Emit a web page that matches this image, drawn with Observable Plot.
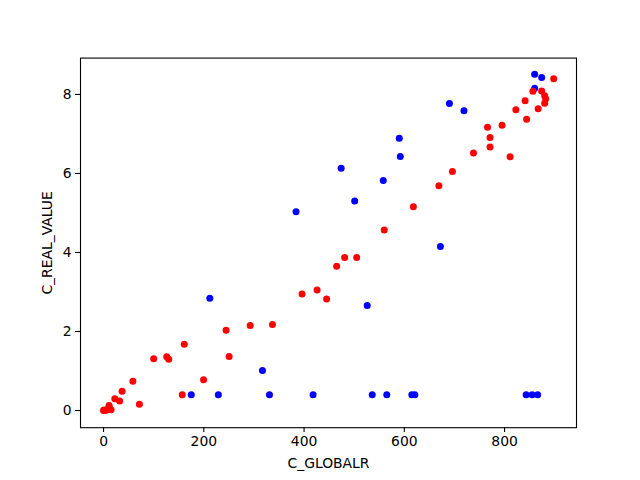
<!DOCTYPE html>
<html>
<head>
<meta charset="utf-8">
<script src="https://cdn.jsdelivr.net/npm/d3@7"></script>
<script src="https://cdn.jsdelivr.net/npm/@observablehq/plot@0.6"></script>
<style>
  html, body { margin: 0; padding: 0; background: #fff; }
  #chart svg { display: block; }
</style>
</head>
<body>
<div id="chart"></div>
<script>
const blueX = [860, 874, 860, 719, 690, 590, 592, 474, 558, 501, 384, 672, 526, 212, 317, 175, 229, 331, 418, 536, 565, 615, 621, 843, 855, 866];
const blueY = [8.51, 8.43, 8.16, 7.59, 7.77, 6.89, 6.43, 6.13, 5.82, 5.30, 5.03, 4.15, 2.66, 2.84, 1.01, 0.40, 0.40, 0.40, 0.40, 0.40, 0.40, 0.40, 0.40, 0.40, 0.40, 0.40];

const redX = [0, 1, 4, 8, 11, 12, 15, 22.5, 32, 37, 58.5, 71.5, 100, 126, 130, 161, 157, 199.5, 244.5, 250.5, 292.5, 337, 396, 426, 445, 465, 481, 505, 560, 618, 669, 696, 738, 771, 771, 766, 795, 811, 822.5, 844, 841, 856.5, 867, 874, 880, 882, 880, 898];
const redY = [0, 0.01, 0, 0.03, 0.13, 0.05, 0.02, 0.30, 0.24, 0.49, 0.74, 0.16, 1.31, 1.36, 1.30, 1.68, 0.40, 0.78, 2.03, 1.37, 2.15, 2.18, 2.95, 3.05, 2.82, 3.65, 3.87, 3.87, 4.57, 5.16, 5.69, 6.05, 6.52, 6.67, 6.91, 7.17, 7.22, 6.42, 7.61, 7.37, 7.84, 8.08, 7.64, 8.09, 7.97, 7.89, 7.78, 8.40];

const xTicks = [0, 200, 400, 600, 800];
const yTicks = [0, 2, 4, 6, 8];
const xLabel = "C_GLOBALR";
const yLabel = "C_REAL_VALUE";

const blue = blueX.map((x, i) => ({x, y: blueY[i]}));
const red = redX.map((x, i) => ({x, y: redY[i]}));

const chart = Plot.plot({
  width: 640,
  height: 480,
  marginLeft: 80,
  marginRight: 64,
  marginTop: 57.6,
  marginBottom: 52.8,
  style: {fontFamily: "DejaVu Sans", fontSize: "13.9px", color: "black", background: "white"},
  x: {domain: [-46, 943.5]},
  y: {domain: [-0.435, 8.92]},
  marks: [
    Plot.dot(blue, {x: "x", y: "y", r: 3.5, fill: "#0000ff", stroke: "none"}),
    Plot.dot(red, {x: "x", y: "y", r: 3.5, fill: "#ff0000", stroke: "none"}),
    Plot.frame({stroke: "black", strokeWidth: 1.1}),
    Plot.axisX({ticks: xTicks, tickSize: 4.9, tickPadding: 4, strokeWidth: 1.1, label: xLabel, labelAnchor: "center", labelArrow: false, labelOffset: 40}),
    Plot.axisY({ticks: yTicks, tickSize: 4.9, tickPadding: 4, strokeWidth: 1.1, label: yLabel, labelAnchor: "center", labelArrow: false, labelOffset: 38})
  ]
});
document.getElementById("chart").appendChild(chart);
</script>
</body>
</html>
